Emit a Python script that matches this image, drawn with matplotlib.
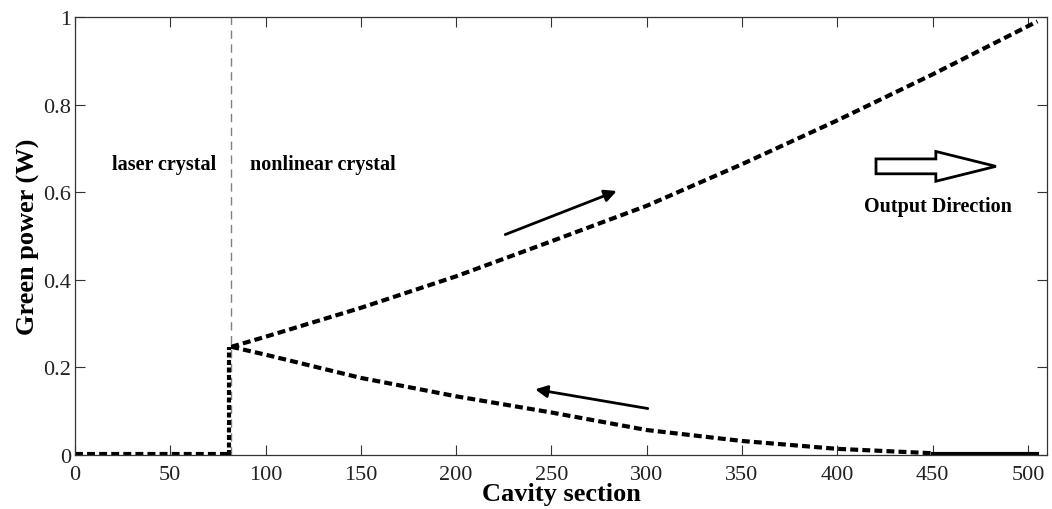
from __future__ import annotations

from pathlib import Path

import matplotlib

matplotlib.use("Agg")
import matplotlib.pyplot as plt
import numpy as np


# Forward (output-going) green power along the nonlinear crystal
FWD_X = [82, 100, 150, 200, 250, 300, 350, 400, 450, 505]
FWD_Y = [0.247, 0.270, 0.336, 0.408, 0.488, 0.569, 0.664, 0.764, 0.869, 0.990]

# Backward green power, decaying toward the output end
BWD_X = [82, 100, 150, 200, 250, 300, 350, 400, 450]
BWD_Y = [0.247, 0.229, 0.176, 0.134, 0.097, 0.057, 0.032, 0.014, 0.004]
BWD_TAIL_X = [450, 505]
BWD_TAIL_Y = [0.003, 0.003]

# Laser-crystal part (no green) and the step at the crystal boundary
LASER_X = [0, 82]
LASER_Y = [0.003, 0.003]
STEP_X = [81, 81]
STEP_Y = [0.0, 0.247]

BOUNDARY = 82
X_TICKS = list(range(0, 501, 50))
Y_TICKS = [0, 0.2, 0.4, 0.6, 0.8, 1]
Y_TICK_LABELS = ["0", "0.2", "0.4", "0.6", "0.8", "1"]


def make_plot(out_path: Path) -> None:
    plt.rcParams["font.family"] = ["Liberation Serif", "DejaVu Serif"]

    fig = plt.figure(figsize=(10.52, 5.10), dpi=100)
    ax = fig.add_axes([0.0713, 0.1059, 0.9239, 0.8588])

    dash = dict(color="black", linewidth=3.0, dashes=(1.9, 1.0), solid_capstyle="butt")

    ax.axvline(BOUNDARY, color="#808080", linewidth=1.0, dashes=(6, 4))
    ax.plot(LASER_X, LASER_Y, **dash)
    ax.plot(STEP_X, STEP_Y, color="black", linewidth=3.0, dashes=(1.2, 0.6))
    ax.plot(FWD_X, FWD_Y, **dash)
    ax.plot(BWD_X, BWD_Y, **dash)
    ax.plot(BWD_TAIL_X, BWD_TAIL_Y, color="black", linewidth=3.0)

    # direction arrows
    ax.annotate("", xy=(285.6, 0.605), xytext=(224.4, 0.501),
                arrowprops=dict(arrowstyle="-|>", color="black", lw=2.0,
                                mutation_scale=18))
    ax.annotate("", xy=(240, 0.151), xytext=(302, 0.105),
                arrowprops=dict(arrowstyle="-|>", color="black", lw=2.0,
                                mutation_scale=18))
    ax.arrow(420.3, 0.659, 62.9, 0, width=0.034, head_width=0.068,
             head_length=31.5, length_includes_head=True,
             facecolor="white", edgecolor="black", linewidth=2.0)

    txt = dict(fontsize=14.5, fontweight="bold", va="center", ha="center")
    ax.text(46.7, 0.664, "laser crystal", **txt)
    ax.text(130, 0.664, "nonlinear crystal", **txt)
    ax.text(452.6, 0.569, "Output Direction", **txt)

    ax.set_xlim(0, 510)
    ax.set_ylim(0, 1)
    ax.set_xticks(X_TICKS)
    ax.set_yticks(Y_TICKS)
    ax.set_yticklabels(Y_TICK_LABELS)
    ax.tick_params(direction="in", length=7, width=0.8, top=True, right=True,
                   labelsize=16, pad=3, colors="#333333", labelcolor="#222222")
    ax.tick_params(axis="x", pad=7)
    for sp in ax.spines.values():
        sp.set_linewidth(0.9)
        sp.set_color("#333333")

    ax.set_xlabel("Cavity section", fontsize=19, fontweight="bold", labelpad=-1)
    ax.set_ylabel("Green power (W)", fontsize=19, fontweight="bold", labelpad=2)

    fig.savefig(out_path, dpi=100)
    plt.close(fig)


def main() -> None:
    make_plot(Path("out.png"))


if __name__ == "__main__":
    main()
